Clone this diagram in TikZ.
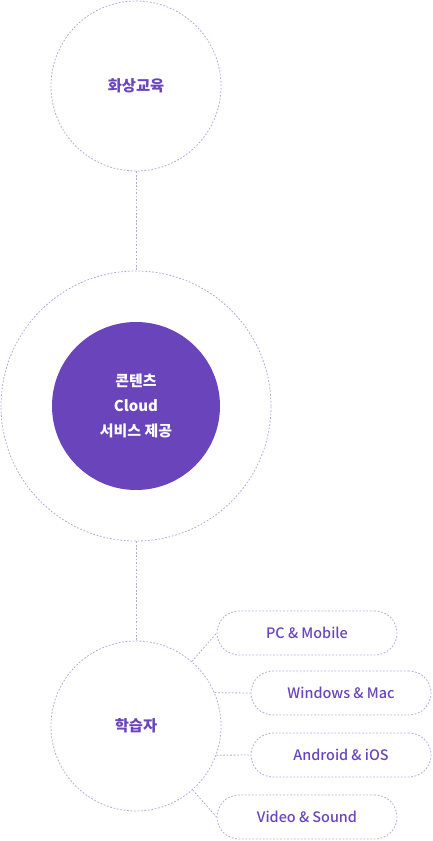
\documentclass[tikz,border=0pt]{standalone}
\usepackage{fontspec}
\setmainfont{Noto Sans CJK KR}
\newfontfamily\mediumfont{Noto Sans CJK KR Medium}
\usetikzlibrary{positioning}

\definecolor{violet}{RGB}{105,68,186}
\definecolor{lilac}{RGB}{178,166,228}

\begin{document}
\begin{tikzpicture}[
    x=0.75pt, y=-0.75pt,
    % Styles
    link/.style={draw=lilac, line width=0.6pt, dash pattern=on 1.3pt off 1.3pt},
    ring/.style={circle, link, minimum size=127.5pt, inner sep=0pt, align=center, text=violet, font=\bfseries\fontsize{11.5}{13}\selectfont},
    halo/.style={circle, link, minimum size=202.5pt, inner sep=0pt},
    core/.style={circle, fill=violet, minimum size=126pt, inner sep=0pt, align=center, text=white, font=\bfseries\fontsize{11.2}{19}\selectfont},
    pill/.style={link, rectangle, rounded corners=16.5pt, minimum width=135pt, minimum height=33pt, text=violet, font=\mediumfont\fontsize{10.8}{12}\selectfont}
]
\useasboundingbox (0,0) rectangle (432,841);

% 1. Circles
\node[ring] (edu) at (136,86) {화상교육};
\node[halo] (cloud) at (136,406) {};
\node[core] (content) at (cloud.center) {콘텐츠\\Cloud\\서비스 제공};
\node[ring] (learner) at (136,726) {학습자};

\draw[link] (edu) -- (cloud);
\draw[link] (cloud) -- (learner);

% 2. Devices
\node[pill] (pc) at (307,633) {PC \& Mobile};
\node[pill] (win) at (341,693) {Windows \& Mac};
\node[pill] (andr) at (341,755) {Android \& iOS};
\node[pill] (media) at (307,817) {Video \& Sound};

\draw[link] (learner) -- (pc.west);
\draw[link] (learner.23) -- (win.west);
\draw[link] (learner.-20) -- (andr.west);
\draw[link] (learner) -- (media.west);

\end{tikzpicture}
\end{document}
